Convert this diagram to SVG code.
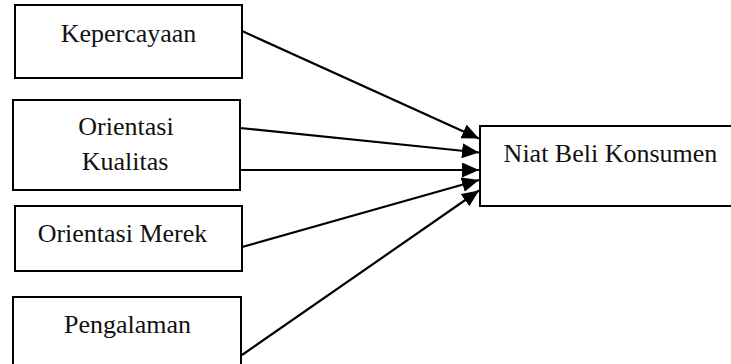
<svg xmlns="http://www.w3.org/2000/svg" width="731" height="364" viewBox="0 0 731 364">
  <style>
    .box { fill: #ffffff; stroke: #000000; stroke-width: 2; }
    .label { font-size: 26px; fill: #111111; text-anchor: middle; }
    .link { fill: none; stroke: #000000; stroke-width: 2.2; marker-end: url(#head); }
  </style>
  <defs>
    <marker id="head" markerUnits="userSpaceOnUse" markerWidth="17" markerHeight="15" viewBox="0 0 17 15" refX="17" refY="7.5" orient="auto">
      <path d="M0,0 L17,7.5 L0,15 Z" fill="#000000"/>
    </marker>
  </defs>
  <rect width="731" height="364" fill="#ffffff"/>

  <g font-family="'Liberation Serif', 'Times New Roman', serif">
    <g id="kepercayaan">
      <rect class="box" x="15" y="5" width="227" height="73"/>
      <text class="label" x="128.5" y="42">Kepercayaan</text>
    </g>

    <g id="orientasi-kualitas">
      <rect class="box" x="13" y="100" width="227" height="90"/>
      <text class="label" x="126" y="135">Orientasi</text>
      <text class="label" x="125" y="170">Kualitas</text>
    </g>

    <g id="orientasi-merek">
      <rect class="box" x="15" y="206" width="227" height="65"/>
      <text class="label" x="122.5" y="242">Orientasi Merek</text>
    </g>

    <g id="pengalaman">
      <rect class="box" x="13" y="297" width="228" height="80"/>
      <text class="label" x="127.5" y="333">Pengalaman</text>
    </g>

    <g id="niat-beli-konsumen">
      <rect class="box" x="480" y="126" width="260" height="80"/>
      <text class="label" x="610.5" y="162">Niat Beli Konsumen</text>
    </g>
  </g>

  <g id="connectors">
    <line class="link" x1="242" y1="31" x2="479" y2="138.5"/>
    <line class="link" x1="240" y1="128" x2="479" y2="152.5"/>
    <line class="link" x1="240" y1="170" x2="479" y2="170"/>
    <line class="link" x1="242" y1="247" x2="479" y2="180"/>
    <line class="link" x1="242" y1="355" x2="479" y2="190.5"/>
  </g>
</svg>
